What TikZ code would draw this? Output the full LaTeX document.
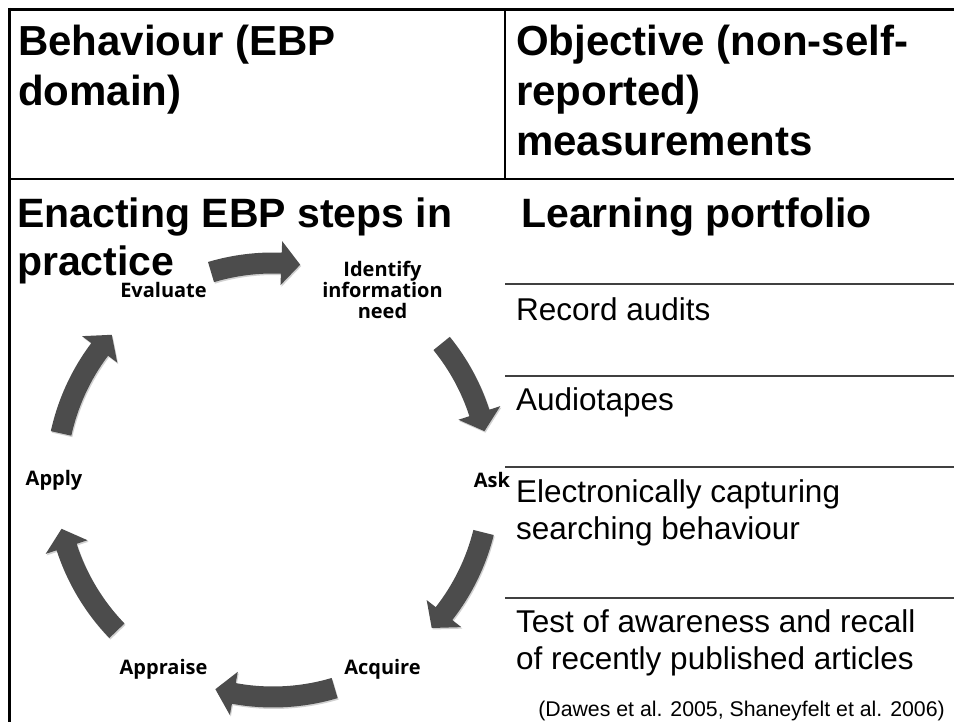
\documentclass[tikz,border=0pt]{standalone}
\usepackage{fontspec}
\setmainfont{Liberation Sans}
\newfontfamily\stepfont{Open Sans}

\begin{document}
\begin{tikzpicture}[x=1pt, y=1pt,
        head/.style={font=\fontsize{42}{50}\selectfont\bfseries, align=left, anchor=base west, inner sep=0},
        title/.style={font=\fontsize{41}{48}\selectfont\bfseries, align=left, anchor=base west, inner sep=0},
        measure/.style={font=\fontsize{31.5}{37.5}\selectfont, align=left, anchor=base west, inner sep=0},
        step label/.style={font=\stepfont\bfseries\fontsize{20}{21}\selectfont, align=center, inner sep=0},
        cycle arrow/.style={fill=black!70},
        cycle shadow/.style={fill=black!18},
        frame/.style={line width=3pt},
        rule/.style={line width=1.5pt, black!75}]
        \useasboundingbox (0,0) rectangle (954,722);

        %%%%%%%%%%%%%%%%%%%%%%%%%%%%%%%%%%%%%%%%%%%%
        % Table frame
        %%%%%%%%%%%%%%%%%%%%%%%%%%%%%%%%%%%%%%%%%%%%
        \draw [frame] (8,712.5) -- (954,712.5);
        \draw [frame] (9.5,714) -- (9.5,0);
        \draw [line width=1.5pt] (505,712.5) -- (505,543);
        \draw [line width=1.5pt] (9.5,543) -- (954,543);

        % Rows of the right column
        \foreach \y in {438,346,255,124}
            \draw [rule] (505,\y) -- (954,\y);

        %%%%%%%%%%%%%%%%%%%%%%%%%%%%%%%%%%%%%%%%%%%%
        % Headings
        %%%%%%%%%%%%%%%%%%%%%%%%%%%%%%%%%%%%%%%%%%%%
        \node [head] (head-domain) at (18,616) {Behaviour (EBP\\domain)};
        \node [head] (head-measure) at (516,566) {Objective (non-self-\\reported)\\measurements};
        \node [title] (behaviour) at (17,446) {Enacting EBP steps in\\practice};
        \node [title] (portfolio) at (521,494) {Learning portfolio};

        %%%%%%%%%%%%%%%%%%%%%%%%%%%%%%%%%%%%%%%%%%%%
        % Measurements
        %%%%%%%%%%%%%%%%%%%%%%%%%%%%%%%%%%%%%%%%%%%%
        \foreach \t/\y [count=\i] in {Record audits/401, Audiotapes/311,
                {Electronically capturing\\searching behaviour}/182,
                {Test of awareness and recall\\of recently published articles}/52}
            \node [measure] (measure-\i) at (516,\y) {\t};

        \node [font=\fontsize{21.3}{24}\selectfont, anchor=base east, inner sep=0] (source) at (945,5)
            {(Dawes et al. 2005, Shaneyfelt et al. 2006)};

        %%%%%%%%%%%%%%%%%%%%%%%%%%%%%%%%%%%%%%%%%%%%
        % EBP cycle
        %%%%%%%%%%%%%%%%%%%%%%%%%%%%%%%%%%%%%%%%%%%%
        \begin{scope}[shift={(273,242)}]
            % Arrows, tail angle / tip angle
            \foreach \a/\b in {106.6/82.8, 39/13, -14/-43, -73.5/-105.4, -136/-167, 167.6/138} {
                \pgfmathsetmacro\h{\b+5}
                \fill [cycle shadow, shift={(1,-1.5)}] (\a:227.5) arc [start angle=\a, end angle=\h, radius=227.5pt]
                    -- (\h:239) -- (\b:217) -- (\h:195) -- (\h:206.5)
                    arc [start angle=\h, end angle=\a, radius=206.5pt] -- cycle;
                \fill [cycle arrow] (\a:227.5) arc [start angle=\a, end angle=\h, radius=227.5pt]
                    -- (\h:239) -- (\b:217) -- (\h:195) -- (\h:206.5)
                    arc [start angle=\h, end angle=\a, radius=206.5pt] -- cycle;
            }

            % Labeling
            \foreach \l [count=\i from 0] in {{Identify\\information\\need}, Ask, Acquire, Appraise, Apply, Evaluate}
                \node [step label] (step-\i) at (60-60*\i:219) {\l};
        \end{scope}
\end{tikzpicture}
\end{document}
